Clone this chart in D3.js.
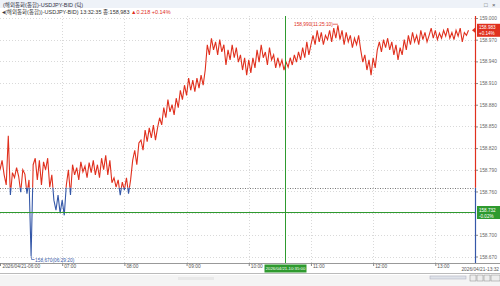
<!DOCTYPE html>
<html><head><meta charset="utf-8">
<script src="https://cdn.jsdelivr.net/npm/d3@7"></script>
<style>
html,body{margin:0;padding:0;background:#fff;overflow:hidden}
text{font-family:"Liberation Sans","Noto Sans CJK KR",sans-serif}
</style></head>
<body>
<svg id="c" width="500" height="286"></svg>
<script>
// ---- data ----
const startTime = "06:00";
const stepMinutes = 2;
const prices = [
158.790,158.803,158.783,158.769,158.837,158.755,158.786,158.779,158.793,158.781,
158.759,158.790,158.784,158.757,158.776,158.670,158.797,158.806,158.776,158.803,
158.769,158.801,158.790,158.806,158.766,158.783,158.748,158.734,158.755,158.730,
158.748,158.727,158.769,158.790,158.755,158.797,158.783,158.793,158.776,158.801,
158.787,158.795,158.779,158.800,158.786,158.803,158.783,158.797,158.779,158.806,
158.790,158.810,158.783,158.803,158.772,158.779,158.766,158.776,158.755,158.773,
158.762,158.779,158.757,158.776,158.803,158.817,158.797,158.827,158.831,158.817,
158.845,158.829,158.848,158.834,158.852,158.831,158.848,158.862,158.852,158.876,
158.862,158.887,158.870,158.880,158.866,158.889,158.876,158.900,158.887,158.907,
158.893,158.917,158.900,158.914,158.898,158.917,158.903,158.921,158.907,158.928,
158.963,158.949,158.972,158.956,158.967,158.949,158.970,158.953,158.963,158.935,
158.956,158.942,158.963,158.945,158.959,158.939,158.949,158.928,158.945,158.921,
158.942,158.924,158.945,158.931,158.956,158.939,158.963,158.945,158.953,158.935,
158.959,158.942,158.949,158.931,158.945,158.933,158.942,158.928,158.939,158.932,
158.945,158.935,158.949,158.939,158.953,158.942,158.959,158.945,158.967,158.949,
158.963,158.976,158.963,158.983,158.967,158.980,158.963,158.976,158.970,158.983,
158.967,158.986,158.972,158.990,158.970,158.983,158.963,158.980,158.967,158.976,
158.959,158.972,158.963,158.976,158.956,158.939,158.949,158.928,158.942,158.921,
158.945,158.931,158.956,158.967,158.953,158.970,158.959,158.972,158.956,158.967,
158.949,158.963,158.942,158.959,158.949,158.970,158.956,158.976,158.963,158.980,
158.967,158.976,158.963,158.983,158.970,158.980,158.967,158.976,158.986,158.972,
158.983,158.970,158.979,158.972,158.983,158.975,158.986,158.972,158.980,158.970,
158.983,158.975,158.986,158.967,158.980,158.976,158.983
];
const prevClose = 158.765;
const crossTime = "10:35";
const crossPrice = 158.732;
const yTicks = [159.000,158.970,158.940,158.910,158.880,158.850,158.820,158.790,158.760,158.730,158.700,158.670];
const xTickLabels = ["2026/04/21-06:00","07:00","08:00","09:00","10:00","11:00","12:00","13:00"];
const endLabel = "2026/04/21-13:32";
const highPoint = {time:"11:26", price:158.990, label:"158,990(11:25:10)"};
const lowPoint = {time:"06:30", price:158.670, label:"158,670(06:29:20)"};
const title1 = "(해외통화(통합)-USDJPY-BID (틱)";
const title2 = "(해외통화(통합))-USDJPY-BID) 13:32:35 종:158,983";
const title2b = "▲0.218  +0.14%";

// ---- chart ----
(function(){
const svg = d3.select("#c");
const W=500,H=286;
const pL=0, pR=475, pT=16, pB=263;
const parse = d3.timeParse("%H:%M");
const t0 = parse(startTime);
const times = prices.map((p,i)=>d3.timeMinute.offset(t0, i*stepMinutes));
const x = d3.scaleTime().domain([parse("06:00"), parse("13:32")]).range([pL, 468.5]);
const y = d3.scaleLinear().domain([158.670,159.000]).range([256.5,18]);
const red="#e0301e", blue="#3558a8", green="#2f9a2f";

// header
svg.append("rect").attr("x",0).attr("y",0).attr("width",W).attr("height",8).attr("fill","#eef2f8");
svg.append("text").attr("x",3).attr("y",6.5).attr("font-size",5.5).attr("fill","#334").text(title1);
const t2=svg.append("text").attr("x",2).attr("y",14).attr("font-size",5.5).attr("fill","#333");
t2.append("tspan").text("◂"+title2+" ");
t2.append("tspan").attr("fill",red).text(title2b);
svg.append("text").attr("x",484).attr("y",6.5).attr("font-size",6).attr("fill","#555").text("□");
svg.append("text").attr("x",492).attr("y",6.5).attr("font-size",6).attr("fill","#555").text("×");

// grid
const g=svg.append("g");
g.selectAll(".hg").data(yTicks).join("line")
 .attr("x1",pL).attr("x2",pR).attr("y1",d=>Math.round(y(d))+0.5).attr("y2",d=>Math.round(y(d))+0.5)
 .attr("stroke","#cfcfcf").attr("stroke-width",0.8).attr("stroke-dasharray","1,2");
const hours = d3.timeHour.range(parse("07:00"), parse("13:32"));
g.selectAll(".vg").data(hours).join("line")
 .attr("x1",d=>Math.round(x(d))+0.5).attr("x2",d=>Math.round(x(d))+0.5).attr("y1",pT).attr("y2",pB)
 .attr("stroke","#cfcfcf").attr("stroke-width",0.8).attr("stroke-dasharray","1,2");

// prev close dotted line
svg.append("line").attr("x1",pL).attr("x2",pR).attr("y1",Math.round(y(prevClose))+0.5).attr("y2",Math.round(y(prevClose))+0.5)
 .attr("stroke","#777").attr("stroke-width",1).attr("stroke-dasharray","1,1.5");

// clip paths
const defs=svg.append("defs");
defs.append("clipPath").attr("id","above").append("rect").attr("x",0).attr("y",0).attr("width",pR).attr("height",y(prevClose));
defs.append("clipPath").attr("id","below").append("rect").attr("x",0).attr("y",y(prevClose)).attr("width",pR).attr("height",H);
const line = d3.line().x((d,i)=>x(times[i])).y(d=>y(d));
svg.append("path").datum(prices).attr("d",line).attr("fill","none").attr("stroke",red).attr("stroke-width",1.1).attr("clip-path","url(#above)");
svg.append("path").datum(prices).attr("d",line).attr("fill","none").attr("stroke",blue).attr("stroke-width",1.1).attr("clip-path","url(#below)");

// crosshair
const cx = Math.round(x(parse(crossTime)))+0.5, cy=Math.round(y(crossPrice))+0.5;
svg.append("line").attr("x1",cx).attr("x2",cx).attr("y1",pT).attr("y2",pB).attr("stroke",green).attr("stroke-width",1);
svg.append("line").attr("x1",pL).attr("x2",pR).attr("y1",cy).attr("y2",cy).attr("stroke",green).attr("stroke-width",1);

// right axis line
svg.append("line").attr("x1",pR+0.5).attr("x2",pR+0.5).attr("y1",pT).attr("y2",y(prevClose)).attr("stroke",red).attr("stroke-width",1.2);
svg.append("line").attr("x1",pR+0.5).attr("x2",pR+0.5).attr("y1",y(prevClose)).attr("y2",pB+10).attr("stroke",blue).attr("stroke-width",1.2);
const yAxis = d3.axisRight(y).tickValues(yTicks.filter(v=>Math.abs(y(v)-y(crossPrice))>7)).tickFormat(d3.format(".3f")).tickSize(2);
const ya = svg.append("g").attr("transform",`translate(${pR+1},0)`).call(yAxis);
ya.select(".domain").remove();
ya.selectAll("line").attr("stroke","#888");
ya.selectAll("text").attr("font-size",4.8).attr("fill","#666").attr("x",3.5);

// current price label
const last = prices[prices.length-1];
const ly0 = y(last);
svg.append("rect").attr("x",477).attr("y",ly0-6.5).attr("width",23).attr("height",13).attr("fill",red);
svg.append("text").attr("x",479).attr("y",ly0-0.8).attr("font-size",4.6).attr("fill","#fff").text(d3.format(".3f")(last));
svg.append("text").attr("x",479).attr("y",ly0+5).attr("font-size",4.6).attr("fill","#fff").text("+0.14%");
svg.append("path").attr("d",`M${pR-3},${ly0} l3,-2.5 v5 z`).attr("fill",red);

// crosshair price label
svg.append("rect").attr("x",477).attr("y",cy-6.5).attr("width",23).attr("height",13).attr("fill",green);
svg.append("text").attr("x",479).attr("y",cy-0.8).attr("font-size",4.6).attr("fill","#fff").text(d3.format(".3f")(crossPrice));
svg.append("text").attr("x",479).attr("y",cy+5).attr("font-size",4.6).attr("fill","#fff").text("-0.02%");

// high / low annotations
const hx=x(parse(highPoint.time)), hy=y(highPoint.price);
svg.append("line").attr("x1",hx-5).attr("x2",hx).attr("y1",hy-1).attr("y2",hy-1).attr("stroke",red).attr("stroke-width",0.7);
svg.append("text").attr("x",hx-5).attr("y",hy+0.5).attr("text-anchor","end").attr("font-size",4.8).attr("fill",red).text(highPoint.label);
const lx=x(parse(lowPoint.time)), lyy=y(lowPoint.price);
svg.append("path").attr("d",`M${lx+0.5},${lyy} v3 h3`).attr("fill","none").attr("stroke",blue).attr("stroke-width",0.7);
svg.append("text").attr("x",lx+4).attr("y",lyy+5).attr("font-size",4.8).attr("fill",blue).text(lowPoint.label);

// x axis band
svg.append("rect").attr("x",0).attr("y",pB).attr("width",W).attr("height",H-pB).attr("fill","#fff");
svg.append("line").attr("x1",0).attr("x2",W).attr("y1",pB+0.5).attr("y2",pB+0.5).attr("stroke","#999").attr("stroke-width",1);
svg.append("line").attr("x1",0).attr("x2",W).attr("y1",pB+10.5).attr("y2",pB+10.5).attr("stroke","#aaa").attr("stroke-width",0.8);
const xTicks = d3.timeHour.range(parse("06:00"), parse("13:32"));
const xa = svg.append("g").attr("transform",`translate(0,${pB})`)
 .call(d3.axisBottom(x).tickValues(xTicks).tickSize(3).tickFormat((d,i)=>xTickLabels[i]));
xa.select(".domain").remove();
xa.selectAll("line").attr("stroke","#888");
xa.selectAll("text").attr("font-size",4.8).attr("fill","#555").attr("text-anchor","start").attr("dx",1.5).attr("y",2);
xa.selectAll(".tick").filter((d,i)=>i===0).select("text").attr("dx",2);
svg.append("text").attr("x",499).attr("y",pB+8).attr("text-anchor","end").attr("font-size",4.8).attr("fill","#555").text(endLabel);
// crosshair time label
svg.append("rect").attr("x",cx-21).attr("y",pB+1.5).attr("width",42).attr("height",8).attr("fill",green);
svg.append("text").attr("x",cx).attr("y",pB+7.3).attr("text-anchor","middle").attr("font-size",4.3).attr("fill","#fff").text("2026/04/21-10:35:00");

// scrollbar
svg.append("rect").attr("x",0).attr("y",pB+12).attr("width",W).attr("height",11).attr("fill","#f4f4f4");
svg.append("rect").attr("x",178).attr("y",pB+14).attr("width",36).attr("height",3).attr("fill","#e8e8e8");
svg.append("rect").attr("x",430).attr("y",pB+13).attr("width",36).attr("height",3).attr("fill","#dfe3ea").attr("stroke","#aab").attr("stroke-width",0.5);
[470,477,484].forEach(bx=>{svg.append("rect").attr("x",bx).attr("y",pB+12).attr("width",6).attr("height",6).attr("fill","#eee").attr("stroke","#888").attr("stroke-width",0.5);});
svg.append("rect").attr("x",491).attr("y",pB+12).attr("width",9).attr("height",6).attr("fill","#eee").attr("stroke","#888").attr("stroke-width",0.5);
})();
</script>
</body></html>
